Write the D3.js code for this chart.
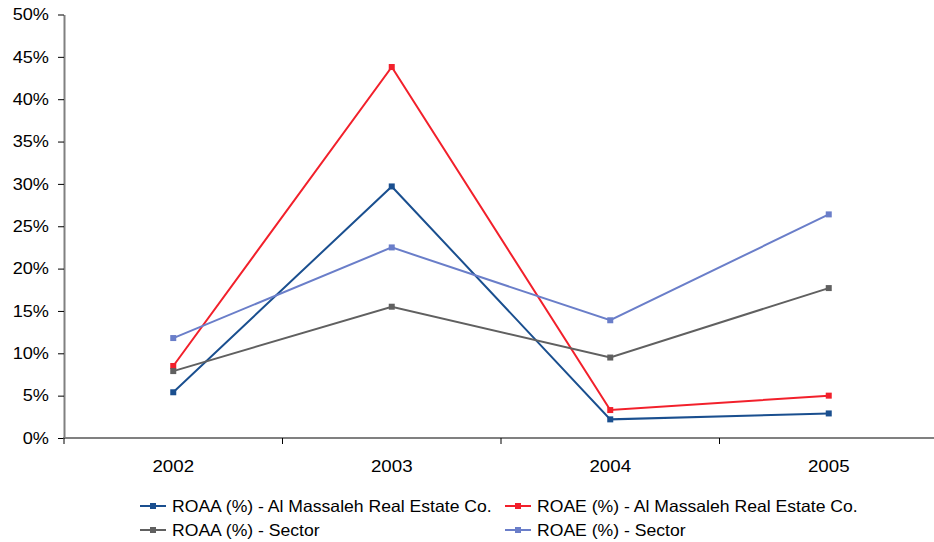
<!DOCTYPE html>
<html>
<head>
<meta charset="utf-8">
<script src="https://cdn.jsdelivr.net/npm/d3@7"></script>
<style>
  html, body { margin: 0; padding: 0; background: #fff; }
  svg { display: block; font-family: "Liberation Sans", Arial, sans-serif; }
</style>
</head>
<body>
<svg id="chart" width="934" height="542"></svg>
<script>
// Years on the category axis
const years = ["2002", "2003", "2004", "2005"];

// Return ratios, in percent
const roaaCompany = [5.4, 29.7, 2.2, 2.9];
const roaeCompany = [8.5, 43.8, 3.3, 5.0];
const roaaSector = [7.9, 15.5, 9.5, 17.7];
const roaeSector = [11.8, 22.5, 13.9, 26.4];

// Value axis ticks
const yTicks = [0, 5, 10, 15, 20, 25, 30, 35, 40, 45, 50];

const seriesNames = [
  "ROAA (%) - Al Massaleh Real Estate Co.",
  "ROAE (%) - Al Massaleh Real Estate Co.",
  "ROAA (%) - Sector",
  "ROAE (%) - Sector"
];
const seriesColors = ["#1a4f8f", "#f2202b", "#606060", "#6a7ec9"];

const series = [roaaCompany, roaeCompany, roaaSector, roaeSector].map((values, i) => ({
  name: seriesNames[i],
  color: seriesColors[i],
  points: values.map((v, j) => ({ year: years[j], value: v }))
}));

// Text is set slightly wide
const stretch = 1.1;
const legendStretch = 1.08;

const svg = d3.select("#chart");
const plot = { left: 64, right: 938, top: 14.5, bottom: 438 };

const x = d3.scaleBand().domain(years).range([plot.left, plot.right]);
const y = d3.scaleLinear().domain([0, 50]).range([plot.bottom, plot.top]);

// Value axis
const yAxis = svg.append("g")
  .attr("transform", `translate(${plot.left},0)`)
  .call(d3.axisLeft(y).tickValues(yTicks).tickFormat(d => d + "%").tickSize(6).tickSizeOuter(0));
yAxis.select(".domain").attr("stroke", "#808080").attr("stroke-width", 2);
yAxis.selectAll(".tick line").attr("stroke", "#000").attr("stroke-width", 1);
yAxis.selectAll(".tick text")
  .attr("x", 0)
  .attr("transform", `translate(-15,0) scale(${stretch},1)`)
  .attr("fill", "#000")
  .style("font-size", "16.5px");

// Category axis with ticks between the years
const xAxisG = svg.append("g").attr("transform", `translate(0,${plot.bottom})`);
xAxisG.append("line")
  .attr("x1", plot.left - 1).attr("x2", 934)
  .attr("stroke", "#808080").attr("stroke-width", 2);
const boundaries = years.map(d => x(d));
xAxisG.selectAll("line.sep")
  .data(boundaries)
  .join("line")
  .attr("class", "sep")
  .attr("x1", d => d).attr("x2", d => d)
  .attr("y1", 0).attr("y2", 6)
  .attr("stroke", "#000").attr("stroke-width", 1);
xAxisG.selectAll("text")
  .data(years)
  .join("text")
  .attr("transform", d => `translate(${x(d) + x.bandwidth() / 2},34) scale(${stretch},1)`)
  .attr("text-anchor", "middle")
  .attr("fill", "#000")
  .style("font-size", "17px")
  .text(d => d);

// Lines and markers
const line = d3.line()
  .x(d => x(d.year) + x.bandwidth() / 2)
  .y(d => y(d.value));

const g = svg.append("g");
series.forEach(s => {
  g.append("path")
    .datum(s.points)
    .attr("d", line)
    .attr("fill", "none")
    .attr("stroke", s.color)
    .attr("stroke-width", 2);
  g.selectAll(null)
    .data(s.points)
    .join("rect")
    .attr("x", d => x(d.year) + x.bandwidth() / 2 - 3)
    .attr("y", d => y(d.value) - 3)
    .attr("width", 6)
    .attr("height", 6)
    .attr("fill", s.color);
});

// Legend, two columns by two rows
const legendPos = [
  { x: 140, y: 506 },
  { x: 505, y: 506 },
  { x: 140, y: 530 },
  { x: 505, y: 530 }
];
const legend = svg.append("g");
series.forEach((s, i) => {
  const p = legendPos[i];
  const item = legend.append("g").attr("transform", `translate(${p.x},${p.y})`);
  item.append("line")
    .attr("x1", 0).attr("x2", 26)
    .attr("stroke", s.color).attr("stroke-width", 2);
  item.append("rect")
    .attr("x", 10).attr("y", -3).attr("width", 6).attr("height", 6)
    .attr("fill", s.color);
  item.append("text")
    .attr("transform", `translate(32,0) scale(${legendStretch},1)`)
    .attr("dy", "0.35em")
    .attr("fill", "#000")
    .style("font-size", "16.3px")
    .text(s.name);
});
</script>
</body>
</html>
